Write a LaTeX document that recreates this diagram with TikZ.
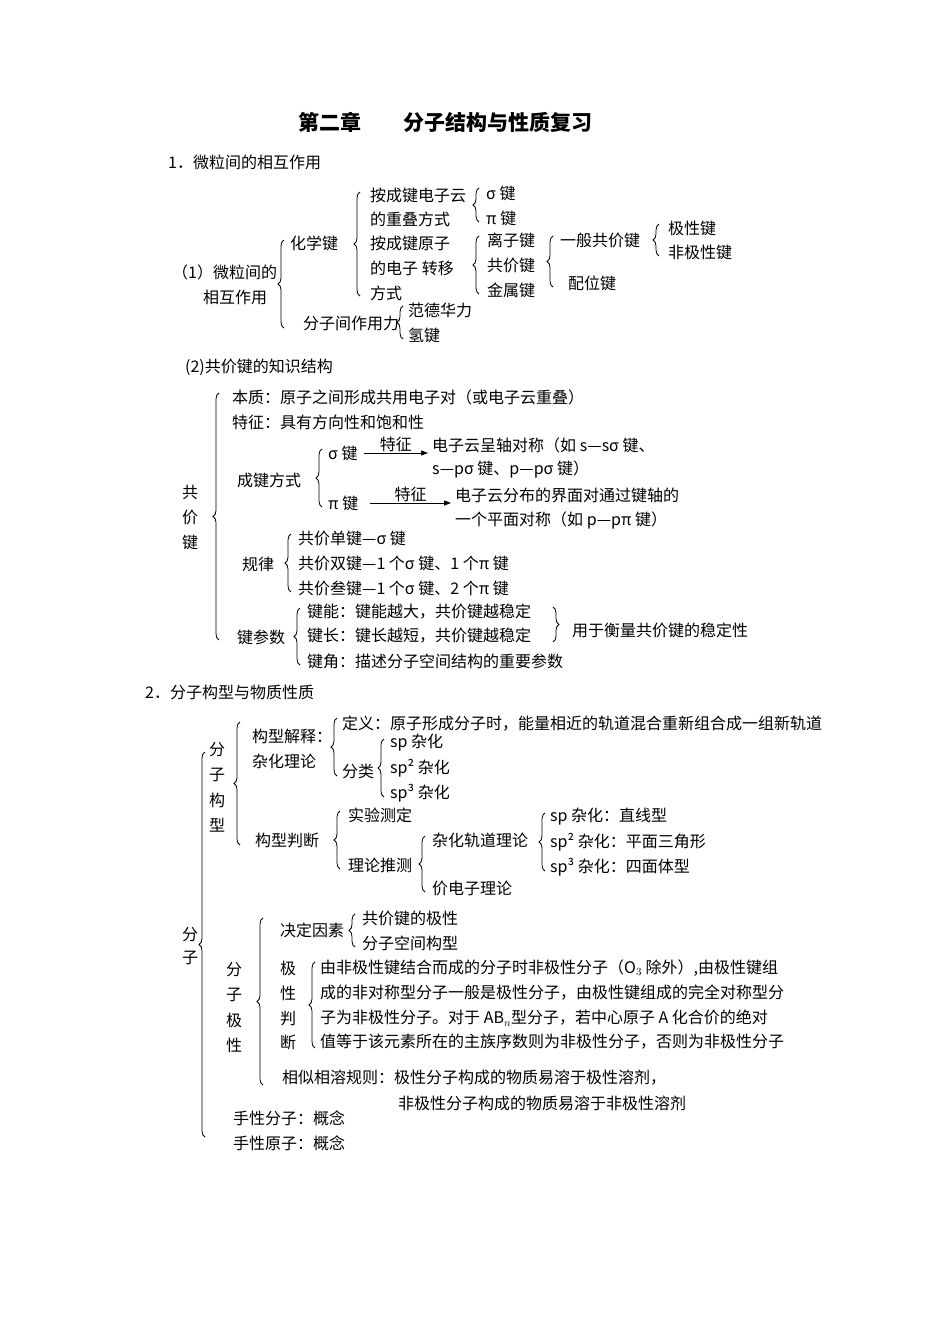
\documentclass[tikz,border=0pt]{standalone}
\usepackage{fontspec}
\setmainfont{Noto Sans CJK SC}
\usetikzlibrary{decorations.pathreplacing,arrows.meta}
\begin{document}
\begin{tikzpicture}[x=1pt,y=-1pt,
  tx/.style={anchor=west,inner sep=0pt,font=\fontsize{16}{18}\selectfont},
  br/.style={decorate,decoration={brace,amplitude=6pt},line width=0.8pt},
  arr/.style={-{Triangle[length=7pt,width=5pt]},line width=0.9pt}]
\useasboundingbox[fill=white] (0,0) rectangle (950,1344);
\node[anchor=center,font=\fontsize{21}{24}\selectfont\bfseries] (title) at (445,122) {第二章\quad\quad 分子结构与性质复习};
\node[tx] (s1) at (168,162) {1．微粒间的相互作用};
% section 1
\node[tx] (a0) at (172,272) {（1）微粒间的};
\node[tx] (a1) at (203,297) {相互作用};
\draw[br] (284,328) -- (284,240);
\node[tx] (hxj) at (290,243) {化学键};
\draw[br] (360,296) -- (360,192);
\node[tx] (b1) at (370,195) {按成键电子云};
\node[tx] (b2) at (370,219) {的重叠方式};
\draw[br] (479,222) -- (479,188);
\node[tx] (sig) at (486,193) {σ 键};
\node[tx] (pi) at (486,218) {π 键};
\node[tx] (c1) at (370,243) {按成键原子};
\node[tx] (c2) at (370,268) {的电子 转移};
\node[tx] (c3) at (370,293) {方式};
\draw[br] (479,294) -- (479,236);
\node[tx] (lzj) at (487,240) {离子键};
\node[tx] (gjj) at (487,265) {共价键};
\node[tx] (jsj) at (487,290) {金属键};
\draw[br] (553,287) -- (553,236);
\node[tx] (ybg) at (560,240) {一般共价键};
\node[tx] (pwj) at (568,283) {配位键};
\draw[br] (659,256) -- (659,224);
\node[tx] (jxj) at (668,228) {极性键};
\node[tx] (fjxj) at (668,252) {非极性键};
\node[tx] (fzj) at (303,323) {分子间作用力};
\draw[br] (403,339) -- (403,306);
\node[tx] (fdh) at (408,310) {范德华力};
\node[tx] (qj) at (408,335) {氢键};
% (2)
\node[tx] (s2) at (185,367) {(2)共价键的知识结构};
\draw[br] (219,640) -- (219,393);
\node[tx] at (182,492) {共};
\node[tx] at (182,517) {价};
\node[tx] at (182,542) {键};
\node[tx] (bz) at (232,397) {本质：原子之间形成共用电子对（或电子云重叠）};
\node[tx] (tz) at (232,422) {特征：具有方向性和饱和性};
\node[tx] (cjfs) at (237,480) {成键方式};
\draw[br] (322,507) -- (322,449);
\node[tx] (sg) at (328,453) {σ 键};
\node[tx] (pg) at (328,503) {π 键};
\coordinate (ae1) at (428,453);
\draw[arr] (sg.east)++(6,0) -- (ae1) node[midway,above=-3pt,font=\fontsize{16}{18}\selectfont] {特征};
\node[tx] (d1) at (432,445) {电子云呈轴对称（如 s—sσ 键、};
\node[tx] (d2) at (432,469) {s—pσ 键、p—pσ 键）};
\coordinate (ae2) at (451,503);
\draw[arr] (pg.east)++(12,0) -- (ae2) node[midway,above=-3pt,font=\fontsize{16}{18}\selectfont] {特征};
\node[tx] (e1) at (455,495) {电子云分布的界面对通过键轴的};
\node[tx] (e2) at (455,520) {一个平面对称（如 p—pπ 键）};
\node[tx] (gl) at (242,564) {规律};
\draw[br] (291,592) -- (291,534);
\node[tx] (g1) at (298,538) {共价单键—σ 键};
\node[tx] (g2) at (298,563) {共价双键—1 个σ 键、1 个π 键};
\node[tx] (g3) at (298,588) {共价叁键—1 个σ 键、2 个π 键};
\node[tx] (jcs) at (237,637) {键参数};
\draw[br] (300,665) -- (300,608);
\node[tx] (k1) at (307,612) {键能：键能越大，共价键越稳定};
\node[tx] (k2) at (307,636) {键长：键长越短，共价键越稳定};
\node[tx] (k3) at (307,661) {键角：描述分子空间结构的重要参数};
\draw[br] (553,607) -- (553,642);
\node[tx] (wd) at (572,630) {用于衡量共价键的稳定性};
% section 2
\node[tx] (s3) at (145,692) {2．分子构型与物质性质};
\draw[br] (205,1137) -- (205,752);
\node[tx] at (182,935) {分};
\node[tx] at (182,958) {子};
\draw[br] (240,845) -- (240,722);
\node[tx] at (209,750) {分};
\node[tx] at (209,775) {子};
\node[tx] at (209,800) {构};
\node[tx] at (209,825) {型};
\node[tx] (gxjs) at (252,736) {构型解释：};
\node[tx] (zhll) at (252,761) {杂化理论};
\draw[br] (337,776) -- (337,718);
\node[tx] (dy) at (342,724) {定义：原子形成分子时，能量相近的轨道混合重新组合成一组新轨道};
\node[tx] (fl) at (342,771) {分类};
\draw[br] (384,797) -- (384,739);
\node[tx] (sp1) at (390,743) {sp 杂化};
\node[tx] (sp2) at (390,768) {sp² 杂化};
\node[tx] (sp3) at (390,793) {sp³ 杂化};
\node[tx] (gxpd) at (255,840) {构型判断};
\draw[br] (340,869) -- (340,811);
\node[tx] (sycd) at (348,815) {实验测定};
\node[tx] (lltc) at (348,865) {理论推测};
\draw[br] (425,892) -- (425,836);
\node[tx] (zhgd) at (432,840) {杂化轨道理论};
\node[tx] (jdz) at (432,888) {价电子理论};
\draw[br] (545,871) -- (545,813);
\node[tx] (x1) at (550,817) {sp 杂化：直线型};
\node[tx] (x2) at (550,842) {sp² 杂化：平面三角形};
\node[tx] (x3) at (550,867) {sp³ 杂化：四面体型};
\draw[br] (263,1085) -- (263,918);
\node[tx] at (226,970) {分};
\node[tx] at (226,995) {子};
\node[tx] at (226,1020) {极};
\node[tx] at (226,1045) {性};
\node[tx] (jdys) at (280,930) {决定因素};
\draw[br] (355,947) -- (355,914);
\node[tx] (p1) at (362,918) {共价键的极性};
\node[tx] (p2) at (362,943) {分子空间构型};
\node[tx] at (280,968) {极};
\node[tx] at (280,993) {性};
\node[tx] at (280,1018) {判};
\node[tx] at (280,1042) {断};
\draw[br] (315,1048) -- (315,962);
\node[tx] (q1) at (320,968) {由非极性键结合而成的分子时非极性分子（O$_3$ 除外）,由极性键组};
\node[tx] (q2) at (320,993) {成的非对称型分子一般是极性分子，由极性键组成的完全对称型分};
\node[tx] (q3) at (320,1018) {子为非极性分子。对于 AB$_n$型分子，若中心原子 A 化合价的绝对};
\node[tx] (q4) at (320,1042) {值等于该元素所在的主族序数则为非极性分子，否则为非极性分子};
\node[tx] (xs1) at (282,1078) {相似相溶规则：极性分子构成的物质易溶于极性溶剂，};
\node[tx] (xs2) at (398,1103) {非极性分子构成的物质易溶于非极性溶剂};
\node[tx] (sx1) at (233,1118) {手性分子：概念};
\node[tx] (sx2) at (233,1143) {手性原子：概念};
\end{tikzpicture}
\end{document}
